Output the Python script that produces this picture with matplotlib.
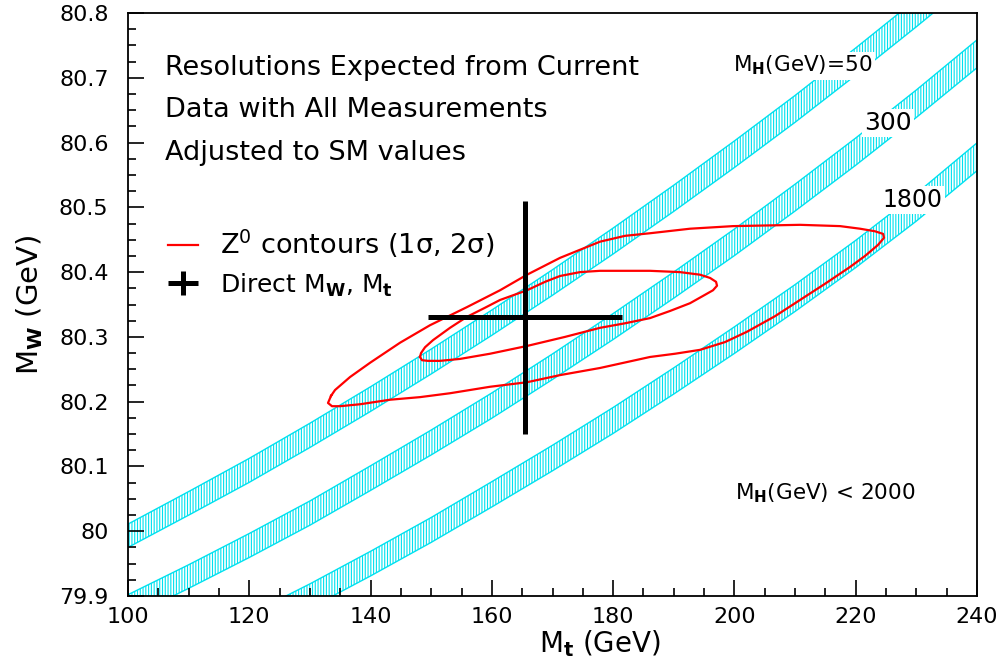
import numpy as np
import matplotlib.pyplot as plt
from matplotlib.ticker import MultipleLocator, FixedLocator, FixedFormatter

plt.rcParams['font.family'] = 'DejaVu Sans'
plt.rcParams['mathtext.default'] = 'regular'
plt.rcParams['hatch.linewidth'] = 0.8

# ---- SM bands: centre of M_W vs M_t for three Higgs masses ----
mt_grid = [100, 110, 120, 130, 140, 150, 160, 170, 180, 190, 200, 210, 220, 230, 240]
band_mh50 = [79.993, 80.043, 80.094, 80.148, 80.204, 80.262, 80.322, 80.384,
             80.448, 80.514, 80.582, 80.652, 80.725, 80.800, 80.877]
band_mh300 = [79.884, 79.930, 79.978, 80.028, 80.082, 80.137, 80.194, 80.254,
              80.316, 80.380, 80.446, 80.515, 80.586, 80.660, 80.737]
band_mh1800 = [79.765, 79.808, 79.853, 79.900, 79.950, 80.002, 80.057, 80.113,
               80.171, 80.232, 80.295, 80.360, 80.428, 80.500, 80.578]
band_halfwidth = [0.0180, 0.0182, 0.0185, 0.0187, 0.0190, 0.0192, 0.0195, 0.0197,
                  0.0200, 0.0202, 0.0205, 0.0207, 0.0210, 0.0212, 0.0215]

# ---- Z0 contours (2 sigma outer, 1 sigma inner) ----
outer_mt = [133.48, 134.14, 136.61, 139.91, 144.86, 149.80, 155.90, 161.35, 165.80,
            171.24, 177.84, 181.96, 186.08, 192.68, 199.77, 210.82, 217.42, 220.71,
            223.19, 224.51, 224.67, 223.68, 221.54, 219.07, 214.94, 210.82, 206.70,
            202.08, 198.45, 194.33, 190.21, 186.08, 177.84, 171.24, 165.80, 159.70,
            153.10, 148.15, 143.21, 138.26, 134.96, 133.64, 132.98, 133.48]
outer_mw = [80.209, 80.218, 80.238, 80.260, 80.291, 80.318, 80.346, 80.372, 80.396,
            80.422, 80.447, 80.456, 80.460, 80.467, 80.471, 80.473, 80.471, 80.467,
            80.463, 80.459, 80.453, 80.442, 80.425, 80.408, 80.382, 80.357, 80.332,
            80.308, 80.292, 80.280, 80.274, 80.269, 80.252, 80.241, 80.230, 80.223,
            80.213, 80.207, 80.203, 80.196, 80.193, 80.193, 80.198, 80.209]
inner_mt = [148.15, 148.32, 148.98, 150.30, 153.10, 155.90, 158.87, 161.35, 165.80,
            168.77, 171.24, 174.54, 177.84, 186.08, 191.03, 194.33, 195.98, 196.97,
            197.13, 196.47, 195.15, 192.68, 189.38, 186.08, 181.96, 177.84, 172.07,
            165.80, 159.70, 154.75, 151.45, 149.47, 148.48, 148.15]
inner_mw = [80.269, 80.275, 80.284, 80.295, 80.314, 80.331, 80.345, 80.357, 80.372,
            80.385, 80.394, 80.400, 80.402, 80.402, 80.400, 80.396, 80.391, 80.385,
            80.379, 80.372, 80.365, 80.352, 80.340, 80.329, 80.321, 80.314, 80.300,
            80.286, 80.274, 80.266, 80.263, 80.263, 80.264, 80.269]

# ---- direct measurement ----
direct_mt, direct_mt_err = 165.5, 16.0
direct_mw, direct_mw_err = 80.33, 0.18

xticks = [100, 120, 140, 160, 180, 200, 220, 240]
yticks = [79.9, 80.0, 80.1, 80.2, 80.3, 80.4, 80.5, 80.6, 80.7, 80.8]
ytick_labels = ['79.9', '80', '80.1', '80.2', '80.3', '80.4', '80.5', '80.6', '80.7', '80.8']

band_color = '#00e1ef'

fig = plt.figure(figsize=(10.02, 6.72), dpi=100)
ax = fig.add_axes([128 / 1002, 76 / 672, 849 / 1002, 583 / 672])

hw = np.array(band_halfwidth)
for centre in (band_mh50, band_mh300, band_mh1800):
    c = np.array(centre)
    ax.fill_between(mt_grid, c - hw, c + hw, facecolor='none', edgecolor=band_color,
                    hatch='||||||', linewidth=1.0, zorder=1)

ax.plot(outer_mt, outer_mw, color='red', lw=1.6, zorder=3, solid_joinstyle='round')
ax.plot(inner_mt, inner_mw, color='red', lw=1.6, zorder=3, solid_joinstyle='round')

ax.errorbar(direct_mt, direct_mw, xerr=direct_mt_err, yerr=direct_mw_err,
            fmt='none', ecolor='black', elinewidth=3.6, capsize=0, zorder=4)

ax.set_xlim(100, 240)
ax.set_ylim(79.9, 80.8)
ax.xaxis.set_major_locator(FixedLocator(xticks))
ax.xaxis.set_minor_locator(MultipleLocator(5))
ax.yaxis.set_major_locator(FixedLocator(yticks))
ax.yaxis.set_major_formatter(FixedFormatter(ytick_labels))
ax.yaxis.set_minor_locator(MultipleLocator(0.025))
ax.tick_params(which='both', direction='in', top=False, right=False, width=1.2)
ax.tick_params(which='major', length=11.5, labelsize=16, pad=8)
ax.tick_params(axis='y', which='major', pad=14)
ax.tick_params(which='minor', length=5.8)
for s in ax.spines.values():
    s.set_linewidth(1.3)

# text block
tx = dict(transform=ax.transAxes, fontsize=19.5, va='baseline', ha='left')
ax.text(0.0436, 0.8937, 'Resolutions Expected from Current', **tx)
ax.text(0.0436, 0.8216, 'Data with All Measurements', **tx)
ax.text(0.0436, 0.7479, 'Adjusted to SM values', **tx)

# legend
ax.plot([0.047, 0.082], [0.602, 0.602], color='red', lw=1.6, transform=ax.transAxes)
ax.text(0.108, 0.586, r'Z$^{0}$ contours (1$\sigma$, 2$\sigma$)', transform=ax.transAxes,
        fontsize=19.5, va='baseline')
ax.plot([0.047, 0.082], [0.537, 0.537], color='black', lw=3.6, transform=ax.transAxes,
        solid_capstyle='butt')
ax.plot([0.0648, 0.0648], [0.516, 0.558], color='black', lw=3.6, transform=ax.transAxes,
        solid_capstyle='butt')
ax.text(0.108, 0.520, r'Direct M$_{\mathbf{W}}$, M$_{\mathbf{t}}$', transform=ax.transAxes,
        fontsize=18, va='baseline')

# band labels
wb = dict(facecolor='white', edgecolor='none', pad=1.5)
lab = dict(transform=ax.transAxes, va='baseline', ha='left', bbox=wb, zorder=2)
ax.text(0.713, 0.899, r'M$_{\mathbf{H}}$(GeV)=50', fontsize=15.5, **lab)
ax.text(0.867, 0.799, '300', fontsize=18, **lab)
ax.text(0.889, 0.667, '1800', fontsize=17, **lab)
ax.text(0.715, 0.165, r'M$_{\mathbf{H}}$(GeV) < 2000', fontsize=15.5, **lab)

fig.text(600 / 1002, 20 / 672, r'M$_{\mathbf{t}}$ (GeV)', fontsize=20, ha='center', va='baseline')
fig.text(30 / 1002, 367 / 672, r'M$_{\mathbf{W}}$ (GeV)', fontsize=21, ha='center', va='center',
         rotation=90)

fig.savefig('out.png', dpi=100)
